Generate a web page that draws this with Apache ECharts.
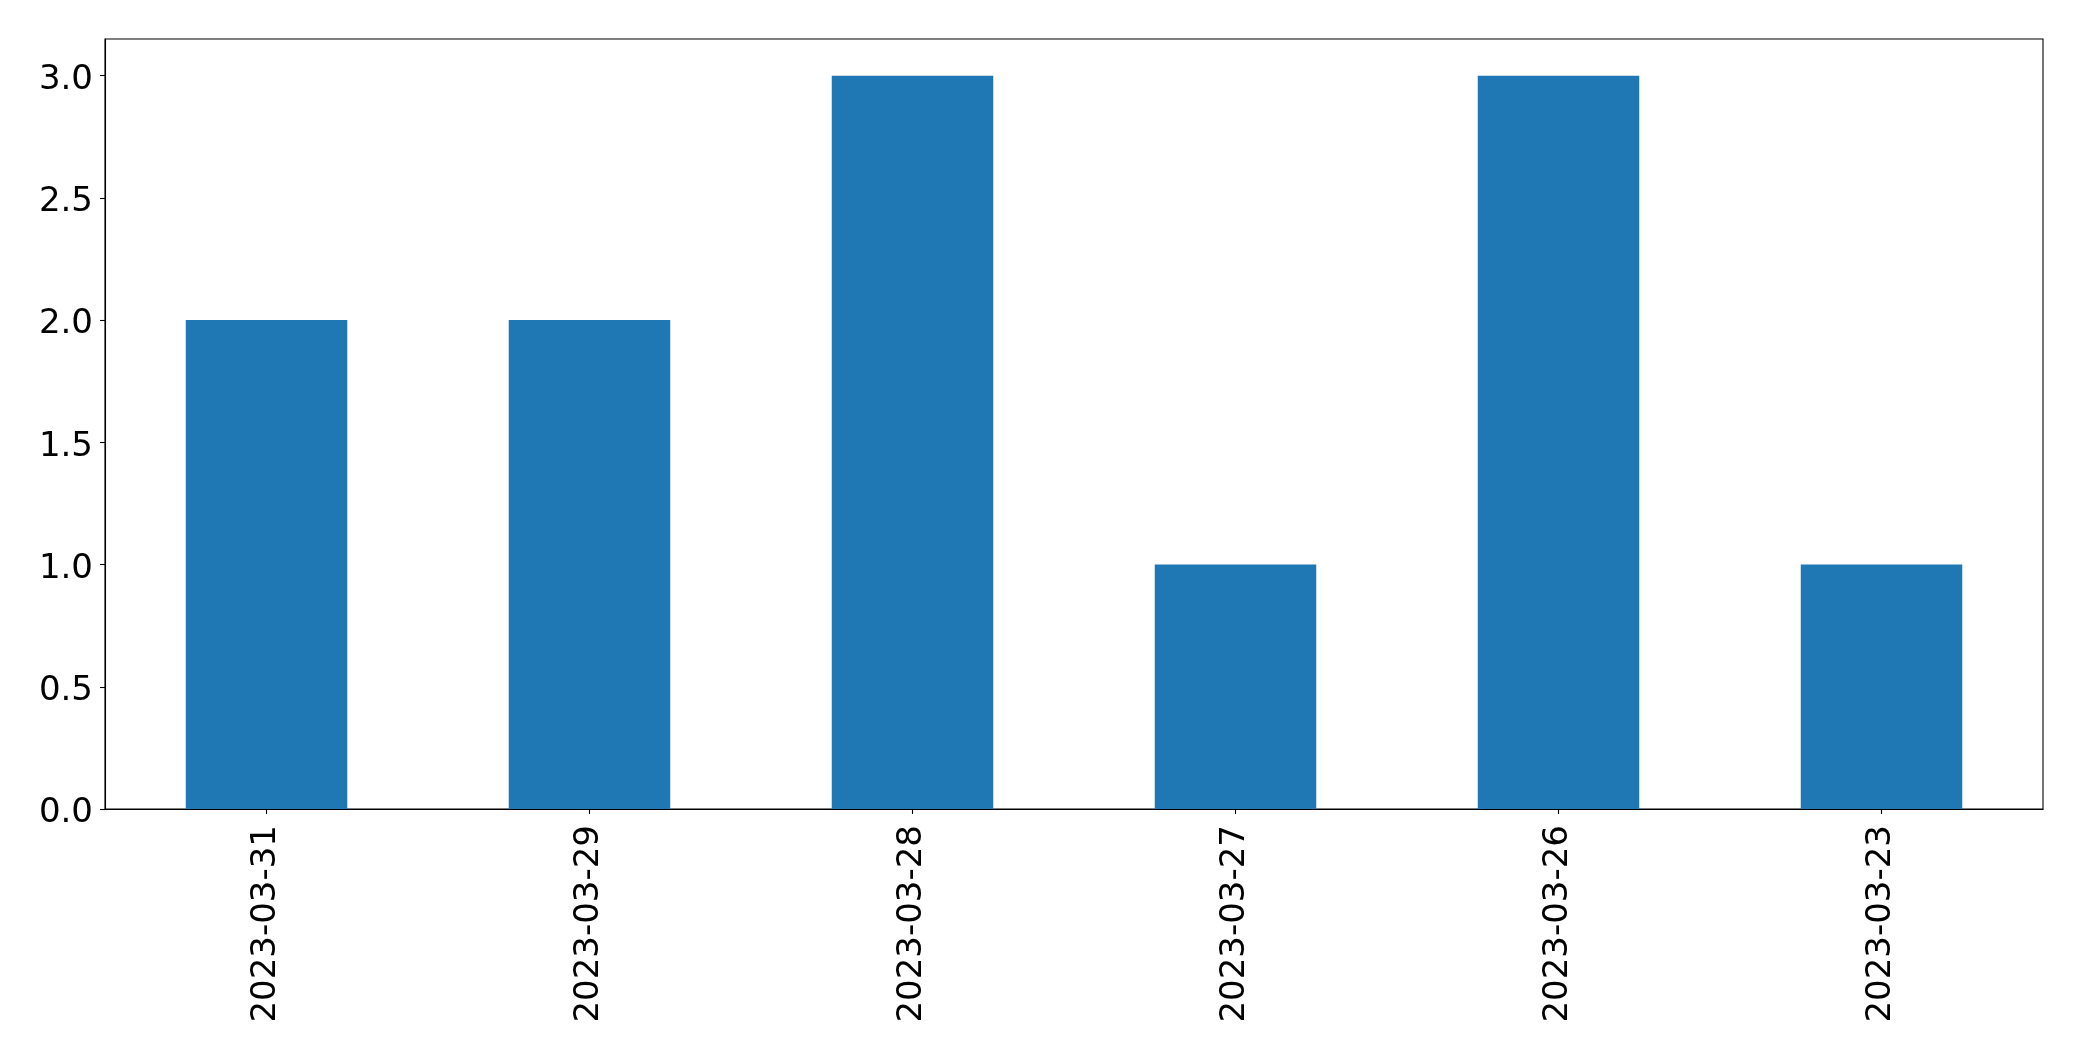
<!DOCTYPE html>
<html>
<head>
<meta charset="utf-8">
<script src="https://cdn.jsdelivr.net/npm/echarts@6/dist/echarts.min.js"></script>
<style>
html,body{margin:0;padding:0;background:#fff;}
#chart{width:2082px;height:1061px;}
</style>
</head>
<body>
<div id="chart"></div>
<script>
const categories = ['2023-03-31','2023-03-29','2023-03-28','2023-03-27','2023-03-26','2023-03-23'];
const values = [2, 2, 3, 1, 3, 1];
const yTicks = [0, 0.5, 1, 1.5, 2, 2.5, 3];
const yMin = 0, yMax = 3.15, yStep = 0.5;

const chart = echarts.init(document.getElementById('chart'), null, {renderer:'canvas'});
chart.setOption({
  animation: false,
  backgroundColor: '#ffffff',
  grid: {left:105, right:39, top:39, bottom:252, show:true, borderColor:'#000', borderWidth:1.1, backgroundColor:'transparent'},
  xAxis: {
    type:'category', data: categories,
    axisLine:{show:true, lineStyle:{color:'#000', width:1.1}},
    axisTick:{show:true, alignWithLabel:true, length:5, lineStyle:{color:'#000', width:1.1}},
    axisLabel:{rotate:90, margin:16, fontSize:34, color:'#000', fontFamily:'DejaVu Sans', interval:0}
  },
  yAxis: {
    type:'value', min:yMin, max:yMax, interval:yStep,
    splitLine:{show:false},
    axisLine:{show:true, lineStyle:{color:'#000', width:1.1}},
    axisTick:{show:true, length:5, customValues: yTicks, lineStyle:{color:'#000', width:1.1}},
    axisLabel:{margin:12, fontSize:34, color:'#000', fontFamily:'DejaVu Sans', customValues: yTicks,
      formatter: v => '{a|' + v.toFixed(1) + '}',
      rich: { a: { fontSize:34, color:'#000', fontFamily:'DejaVu Sans', padding:[9,0,0,0] } }
    }
  },
  series: [{
    type:'bar', data: values, barWidth:'50%',
    itemStyle:{color:'#1f77b4'}
  }]
});
</script>
</body>
</html>
